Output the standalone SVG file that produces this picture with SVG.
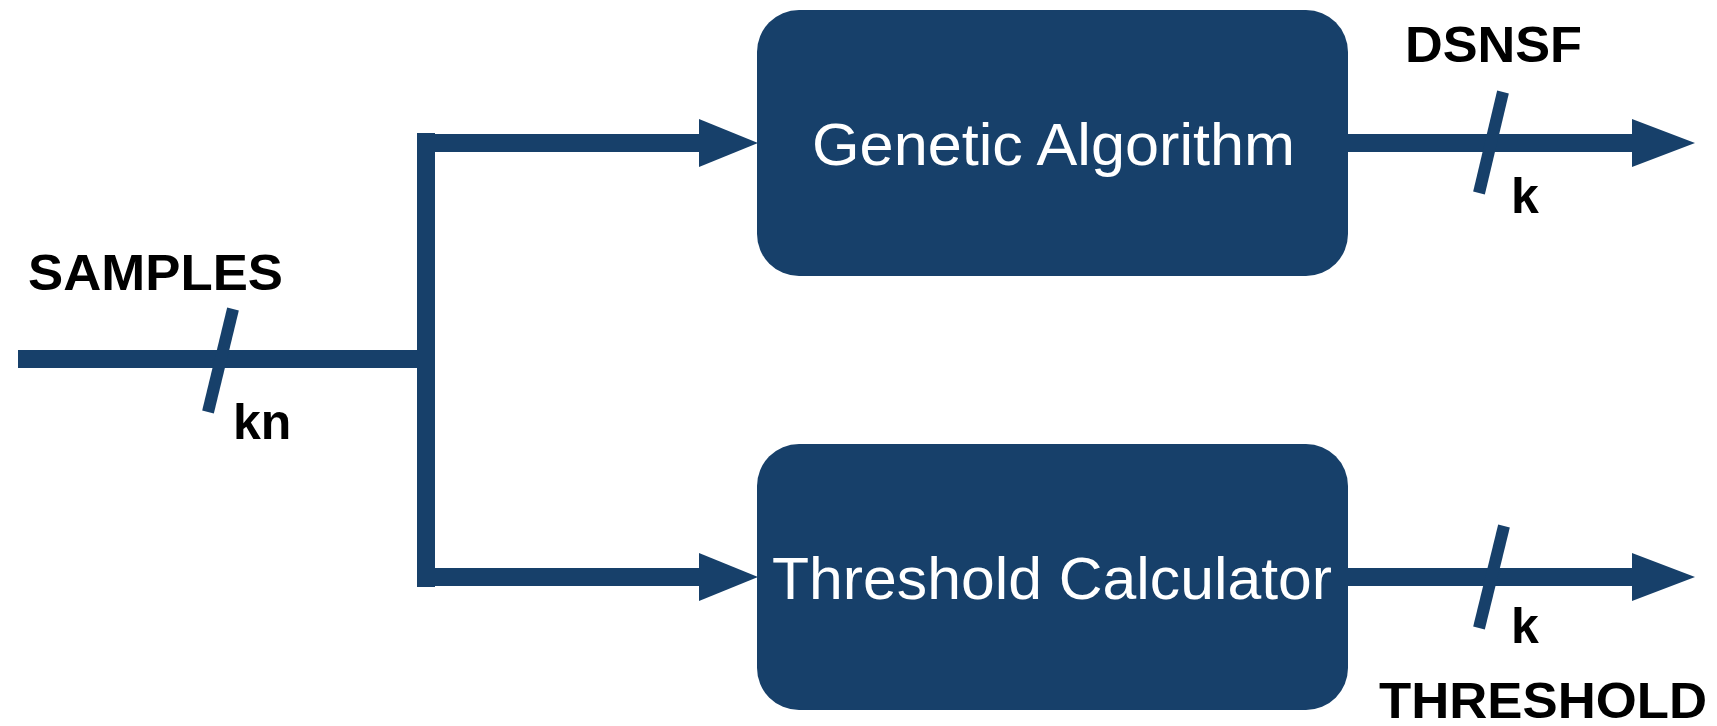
<svg xmlns="http://www.w3.org/2000/svg" width="1717" height="726" viewBox="0 0 1717 726">
<style>
.box{fill:#17406a;}
.btxt{font-family:"Liberation Sans",Arial,sans-serif;font-size:59px;fill:#ffffff;}
.lbl{font-family:"Liberation Sans",Arial,sans-serif;font-size:50px;font-weight:bold;fill:#000000;}
.wire{stroke:#17406a;stroke-width:18;fill:none;}
.slash{stroke:#17406a;stroke-width:12;fill:none;}
.head{fill:#17406a;}
</style>
<rect width="1717" height="726" fill="#ffffff"/>
<g id="connectors">
  <line class="wire" x1="18" y1="359" x2="426" y2="359"/>
  <line class="wire" x1="426" y1="133" x2="426" y2="587"/>
  <line class="wire" x1="426" y1="143" x2="702" y2="143"/>
  <polygon class="head" points="699,119 758,143 699,167"/>
  <line class="wire" x1="426" y1="577" x2="702" y2="577"/>
  <polygon class="head" points="699,553 758,577 699,601"/>
  <line class="wire" x1="1348" y1="143" x2="1635" y2="143"/>
  <polygon class="head" points="1632,119 1695,143 1632,167"/>
  <line class="wire" x1="1348" y1="577" x2="1635" y2="577"/>
  <polygon class="head" points="1632,553 1695,577 1632,601"/>
  <line class="slash" x1="233" y1="309" x2="208" y2="412"/>
  <line class="slash" x1="1503" y1="92" x2="1479" y2="193"/>
  <line class="slash" x1="1504" y1="526" x2="1479" y2="628"/>
</g>
<g id="node-ga">
  <rect class="box" x="757" y="10" width="591" height="266" rx="42" ry="42"/>
  <text class="btxt" x="812" y="165" textLength="483" lengthAdjust="spacingAndGlyphs">Genetic Algorithm</text>
</g>
<g id="node-tc">
  <rect class="box" x="757" y="444" width="591" height="266" rx="42" ry="42"/>
  <text class="btxt" x="772" y="599" textLength="560" lengthAdjust="spacingAndGlyphs">Threshold Calculator</text>
</g>
<g id="labels">
  <text class="lbl" x="28" y="290" font-size="52" textLength="255" lengthAdjust="spacingAndGlyphs">SAMPLES</text>
  <text class="lbl" x="233" y="439">kn</text>
  <text class="lbl" x="1405" y="62" textLength="177" lengthAdjust="spacingAndGlyphs">DSNSF</text>
  <text class="lbl" x="1511" y="213">k</text>
  <text class="lbl" x="1511" y="643">k</text>
  <text class="lbl" x="1379" y="718" textLength="328" lengthAdjust="spacingAndGlyphs">THRESHOLD</text>
</g>
</svg>
